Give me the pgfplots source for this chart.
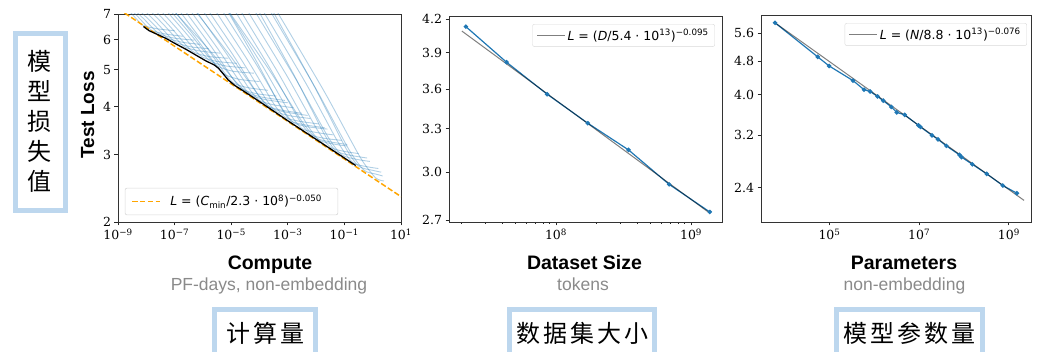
\documentclass[border=0pt]{standalone}
\usepackage{pgfplots}
\pgfplotsset{compat=1.18}
\usepackage{fontspec}
\newfontfamily\lsans{Liberation Sans}
\newfontfamily\djv{DejaVu Sans}
\newfontfamily\djvs{DejaVu Serif}
\newfontfamily\cjk{Noto Sans CJK SC}
\definecolor{mplblue}{HTML}{1F77B4}
\definecolor{mplorange}{HTML}{FFA500}
\definecolor{boxblue}{HTML}{BDD7EE}
\definecolor{subgray}{HTML}{8A8A8A}
\pgfplotsset{
  myax/.style={scale only axis, anchor=south west,
    axis line style={black!80,line width=0.8pt},
    tick style={black!85,line width=0.8pt},
    tick align=outside, tick pos=left,
    major tick length=3.5pt, minor tick length=2pt,
    tick label style={font=\djvs\fontsize{12.5}{13}\selectfont},
    yminorticks=false,
    legend cell align=left,
    legend style={draw=black!15, rounded corners=2pt, fill=white,
      font=\djv\fontsize{12.5}{14}\selectfont, inner xsep=4pt, inner ysep=3pt},
  },
  lc/.style={mplblue, opacity=0.35, line width=0.9pt, forget plot, smooth, tension=0.4},
}
\begin{document}
\begin{tikzpicture}[x=1pt,y=1pt]
\useasboundingbox (0,0) rectangle (1038,351);

% ---------------- Panel 1: Compute ----------------
\begin{axis}[xmode=log, ymode=log, myax, at={(118pt,129pt)}, width=283pt, height=208pt,
  xmin=1e-9, xmax=10, ymin=2, ymax=7,
  xtick={1e-9,1e-7,1e-5,1e-3,1e-1,10}, xminorticks=false,
  xticklabels={10\textsuperscript{−9},10\textsuperscript{−7},10\textsuperscript{−5},10\textsuperscript{−3},10\textsuperscript{−1},10\textsuperscript{1}},
  ytick={2,3,4,5,6,7}, yticklabels={2,3,4,5,6,7}]
\addplot[lc] coordinates {(1.259e-9,7.5) (3.162e-9,6.99) (6.026e-9,6.63) (7.943e-9,6.52) (2.512e-8,6.40) (1e-7,6.33)};
\addplot[lc] coordinates {(1.585e-9,7.5) (5.012e-9,6.89) (1.122e-8,6.46) (1.585e-8,6.33) (5.012e-8,6.20) (1.995e-7,6.12)};
\addplot[lc] coordinates {(1.995e-9,7.5) (7.943e-9,6.81) (2.089e-8,6.33) (3.162e-8,6.19) (1e-7,6.05) (5.012e-7,5.98)};
\addplot[lc] coordinates {(2.818e-9,7.5) (1.334e-8,6.73) (3.981e-8,6.19) (6.310e-8,6.03) (1.995e-7,5.90) (7.943e-7,5.83)};
\addplot[lc] coordinates {(4.467e-9,7.5) (2.371e-8,6.63) (7.586e-8,6.04) (1.259e-7,5.87) (3.981e-7,5.74) (1.585e-6,5.68)};
\addplot[lc] coordinates {(7.079e-9,7.5) (4.217e-8,6.55) (1.479e-7,5.91) (2.512e-7,5.72) (7.943e-7,5.60) (3.981e-6,5.53)};
\addplot[lc] coordinates {(1.122e-8,7.5) (7.499e-8,6.45) (2.818e-7,5.75) (5.012e-7,5.55) (1.585e-6,5.42) (7.943e-6,5.36)};
\addplot[lc] coordinates {(1.778e-8,7.5) (1.334e-7,6.36) (5.495e-7,5.61) (1e-6,5.39) (3.162e-6,5.26) (1.585e-5,5.20)};
\addplot[lc] coordinates {(2.818e-8,7.5) (2.371e-7,6.27) (1.047e-6,5.48) (1.995e-6,5.25) (6.310e-6,5.12) (3.162e-5,5.06)};
\addplot[lc] coordinates {(3.981e-8,7.5) (3.758e-7,6.18) (1.820e-6,5.34) (3.548e-6,5.10) (1.122e-5,4.96) (6.310e-5,4.90)};
\addplot[lc] coordinates {(5.623e-8,7.5) (5.957e-7,6.03) (3.090e-6,5.11) (6.310e-6,4.85) (1.995e-5,4.72) (1e-4,4.66)};
\addplot[lc] coordinates {(8.913e-8,7.5) (1.059e-6,5.88) (6.026e-6,4.89) (1.259e-5,4.61) (3.981e-5,4.49) (1.995e-4,4.42)};
\addplot[lc] coordinates {(1.413e-7,7.5) (1.884e-6,5.78) (1.148e-5,4.74) (2.512e-5,4.45) (7.943e-5,4.33) (3.981e-4,4.27)};
\addplot[lc] coordinates {(2.239e-7,7.5) (3.350e-6,5.68) (2.239e-5,4.60) (5.012e-5,4.30) (1.585e-4,4.18) (1e-3,4.10)};
\addplot[lc] coordinates {(3.548e-7,7.5) (5.957e-6,5.59) (4.266e-5,4.47) (1e-4,4.16) (3.162e-4,4.05) (1.585e-3,3.98)};
\addplot[lc] coordinates {(6.310e-7,7.5) (1.122e-5,5.49) (8.414e-5,4.33) (1.995e-4,4.02) (6.310e-4,3.92) (3.162e-3,3.85)};
\addplot[lc] coordinates {(1e-6,7.5) (1.995e-5,5.40) (1.622e-4,4.21) (3.981e-4,3.89) (1.259e-3,3.79) (6.310e-3,3.73)};
\addplot[lc] coordinates {(1.778e-6,7.5) (3.758e-5,5.31) (3.162e-4,4.08) (7.943e-4,3.76) (2.512e-3,3.67) (1.259e-2,3.61)};
\addplot[lc] coordinates {(3.162e-6,7.5) (7.079e-5,5.22) (6.237e-4,3.97) (1.585e-3,3.64) (5.012e-3,3.55) (2.512e-2,3.50)};
\addplot[lc] coordinates {(5.012e-6,7.5) (1.259e-4,5.13) (1.202e-3,3.84) (3.162e-3,3.51) (1e-2,3.43) (3.981e-2,3.38)};
\addplot[lc] coordinates {(8.913e-6,7.5) (2.371e-4,5.04) (2.344e-3,3.73) (6.310e-3,3.39) (1.995e-2,3.31) (7.943e-2,3.27)};
\addplot[lc] coordinates {(1.413e-5,7.5) (4.217e-4,4.96) (4.571e-3,3.62) (1.259e-2,3.28) (3.981e-2,3.20) (0.1259,3.16)};
\addplot[lc] coordinates {(2.512e-5,7.5) (8.913e-4,4.85) (1.084e-2,3.49) (3.162e-2,3.14) (0.1,3.06) (0.3162,3.02)};
\addplot[lc] coordinates {(4.467e-5,7.5) (1.884e-3,4.74) (2.570e-2,3.35) (7.943e-2,3.00) (0.2512,2.92) (0.7943,2.88)};
\addplot[lc] coordinates {(8.913e-5,7.5) (4.217e-3,4.63) (6.310e-2,3.21) (0.1995,2.86) (0.6310,2.79) (1.585,2.76)};
\addplot[lc] coordinates {(1.585e-4,7.5) (8.913e-3,4.52) (0.1496,3.08) (0.5012,2.73) (1.259,2.67) (2.239,2.64)};
\addplot[lc] coordinates {(2.692e-4,7.5) (1.841e-2,4.42) (0.3548,2.96) (1.259,2.61) (2.512,2.56)};
\addplot[lc] coordinates {(5.012e-8,7.5) (1.413e-6,5.72) (1.462e-5,4.65) (3.981e-5,4.36) (1.259e-4,4.24) (7.943e-4,4.16)};
\addplot[lc] coordinates {(3.162e-7,7.5) (8.913e-6,5.46) (9.226e-5,4.29) (2.512e-4,3.98) (7.943e-4,3.88) (5.012e-3,3.80)};
\addplot[lc] coordinates {(5.012e-6,7.5) (7.943e-5,5.25) (5.495e-4,4.01) (1.259e-3,3.68) (3.981e-3,3.59) (1.995e-2,3.53)};
\addplot[lc] coordinates {(5.012e-6,7.5) (2.239e-4,4.99) (3.199e-3,3.66) (1e-2,3.32) (3.162e-2,3.24) (0.1259,3.19)};
\addplot[lc] coordinates {(6.310e-5,7.5) (1.778e-3,4.80) (1.841e-2,3.42) (5.012e-2,3.07) (0.1585,2.99) (0.6310,2.94)};
\addplot[lc] coordinates {(1.995e-4,7.5) (7.943e-3,4.58) (0.1047,3.15) (0.3162,2.80) (1,2.73) (1.995,2.70)};
\addplot[mplorange, line width=1.5pt, dash pattern=on 5.5pt off 2.4pt] coordinates {(1e-9,7.23) (10,2.33)};
\addplot[black, line width=1.3pt, forget plot] coordinates {
(7.943e-9,6.49) (1.259e-8,6.33) (2.344e-8,6.20) (5.012e-8,6.04) (1.175e-7,5.83)
(2.512e-7,5.66) (6.026e-7,5.45) (1.259e-6,5.28) (2.512e-6,5.15) (3.548e-6,5.05)
(5.012e-6,4.90) (7.943e-6,4.70) (1.349e-5,4.55) (3.162e-5,4.37) (1e-4,4.13)
(3.162e-4,3.90) (1e-3,3.68) (3.162e-3,3.48) (1e-2,3.29) (3.162e-2,3.11)
(0.1,2.94) (0.2512,2.81)};
% legend (box, key line, text)
\draw[draw=black!15, fill=white, rounded corners=2pt, line width=0.6pt]
  (axis description cs:0.025,0.034) rectangle (axis description cs:0.777,0.163);
\draw[draw=mplorange, line width=1.5pt, dash pattern=on 5.5pt off 2.4pt]
  (axis description cs:0.0495,0.0985) -- (axis description cs:0.148,0.0985);
\node[anchor=west, inner sep=0pt, font=\djv\fontsize{12.5}{14}\selectfont]
  at (axis description cs:0.184,0.0985)
  {\textit{L} = (\textit{C}\textsubscript{min}/2.3 · 10\textsuperscript{8})\textsuperscript{−0.050}};
\end{axis}

% ---------------- Panel 2: Dataset Size ----------------
\begin{axis}[xmode=log, ymode=log, myax, at={(449pt,129pt)}, width=273pt, height=206pt,
  xmin=1.613e7, xmax=1.696e9, ymin=2.688, ymax=4.228,
  xtick={1e8,1e9}, xticklabels={10\textsuperscript{8},10\textsuperscript{9}},
  minor xtick={2e7,3e7,4e7,5e7,6e7,7e7,8e7,9e7,2e8,3e8,4e8,5e8,6e8,7e8,8e8,9e8},
  ytick={2.7,3.0,3.3,3.6,3.9,4.2},
  yticklabels={2.7,3.0,3.3,3.6,3.9,4.2},
  legend image code/.code={\draw[black, opacity=0.5, line width=1pt] (0pt,0pt) -- (28pt,0pt);},
  legend style={at={(0.974,0.961)}, anchor=north east}]
\addplot[mplblue, line width=1.2pt, mark=*, mark size=1.6pt, forget plot] coordinates {
(2.15e7,4.13) (4.3e7,3.82) (8.6e7,3.56) (1.72e8,3.34) (3.44e8,3.15) (6.88e8,2.92) (1.376e9,2.748)};
\addplot[black, opacity=0.5, line width=1pt] coordinates {(2.01e7,4.09) (1.38e9,2.74)};
\addlegendentry{\textit{L} = (\textit{D}/5.4 · 10\textsuperscript{13})\textsuperscript{−0.095}}
\end{axis}

% ---------------- Panel 3: Parameters ----------------
\begin{axis}[xmode=log, ymode=log, myax, at={(761pt,129pt)}, width=270pt, height=207pt,
  xmin=2.97e3, xmax=3.12e9, ymin=1.99, ymax=6.19,
  xtick={1e5,1e7,1e9}, xminorticks=false,
  xticklabels={10\textsuperscript{5},10\textsuperscript{7},10\textsuperscript{9}},
  ytick={2.4,3.2,4.0,4.8,5.6},
  yticklabels={2.4,3.2,4.0,4.8,5.6},
  legend image code/.code={\draw[black, opacity=0.5, line width=1pt] (0pt,0pt) -- (28pt,0pt);},
  legend style={at={(0.985,0.961)}, anchor=north east}]
\addplot[mplblue, line width=1.2pt, mark=*, mark size=1.6pt, forget plot] coordinates {
(6.12e3,5.93) (5.46e4,4.92) (9.84e4,4.68) (3.34e5,4.32) (5.90e5,4.11) (8.05e5,4.07)
(1.18e6,3.96) (1.58e6,3.87) (2.39e6,3.74) (3.16e6,3.63) (4.77e6,3.58) (9.65e6,3.38)
(1.07e7,3.35) (1.93e7,3.20) (2.63e7,3.13) (4.04e7,3.02) (7.93e7,2.875) (8.79e7,2.84)
(1.53e8,2.73) (3.21e8,2.59) (7.33e8,2.43) (1.51e9,2.33)};
\addplot[black, opacity=0.5, line width=1pt] coordinates {(6.68e3,5.89) (2.18e9,2.24)};
\addlegendentry{\textit{L} = (\textit{N}/8.8 · 10\textsuperscript{13})\textsuperscript{−0.076}}
\end{axis}

% ---------------- Labels ----------------
\node[rotate=90, anchor=base, font=\lsans\bfseries\fontsize{19}{22}\selectfont] at (94,236) {Test Loss};
\node[anchor=base, font=\lsans\bfseries\fontsize{19.5}{22}\selectfont] at (270,81.7) {Compute};
\node[anchor=base, font=\lsans\fontsize{17.5}{19}\selectfont, text=subgray] at (269,60.3) {PF-days, non-embedding};
\node[anchor=base, font=\lsans\bfseries\fontsize{19.5}{22}\selectfont] at (584.5,81.7) {Dataset Size};
\node[anchor=base, font=\lsans\fontsize{17.5}{19}\selectfont, text=subgray] at (583,60.3) {tokens};
\node[anchor=base, font=\lsans\bfseries\fontsize{19.5}{22}\selectfont] at (904,81.7) {Parameters};
\node[anchor=base, font=\lsans\fontsize{17.5}{19}\selectfont, text=subgray] at (904.5,60.3) {non-embedding};

% ---------------- Chinese annotation boxes ----------------
\draw[boxblue, line width=5pt, fill=white] (15.5,317.5) rectangle (65.5,140.5);
\foreach \c/\yy in {模/290,型/260,损/230,失/200,值/170}
  \node[font=\cjk\fontsize{24}{24}\selectfont] at (39.5,\yy) {\c};
\draw[boxblue, line width=5pt, fill=white] (214.5,41.5) rectangle (315.5,-10);
\node[font=\cjk\fontsize{24}{24}\selectfont] at (265,18) {计\hspace{3pt}算\hspace{3pt}量};
\draw[boxblue, line width=5pt, fill=white] (509.5,41.5) rectangle (654.5,-10);
\node[font=\cjk\fontsize{24}{24}\selectfont] at (582,18) {数\hspace{3pt}据\hspace{3pt}集\hspace{3pt}大\hspace{3pt}小};
\draw[boxblue, line width=5pt, fill=white] (836.5,41.5) rectangle (982.5,-10);
\node[font=\cjk\fontsize{24}{24}\selectfont] at (909.5,18) {模\hspace{3pt}型\hspace{3pt}参\hspace{3pt}数\hspace{3pt}量};
\end{tikzpicture}
\end{document}
